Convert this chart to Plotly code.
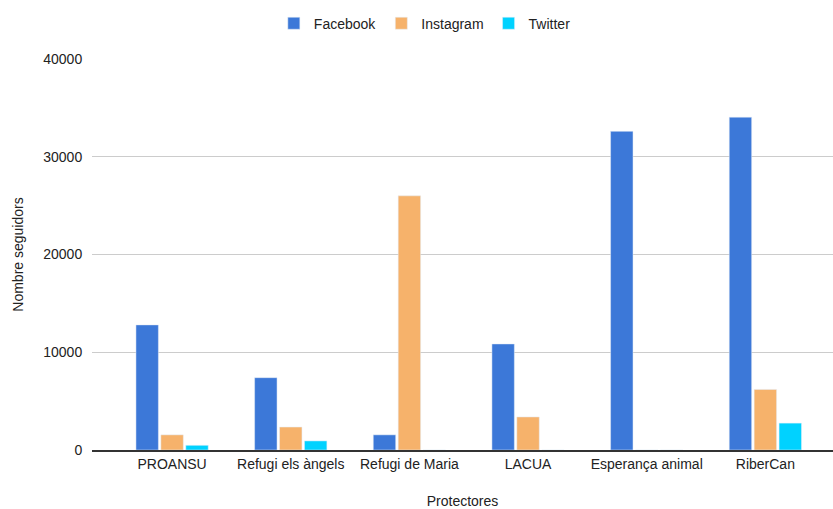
import plotly.graph_objects as go

categories = ["PROANSU", "Refugi els àngels", "Refugi de Maria", "LACUA", "Esperança animal", "RiberCan"]
facebook = [12800, 7400, 1550, 10850, 32600, 34050]
instagram = [1550, 2350, 26000, 3380, 0, 6200]
twitter = [480, 930, 0, 0, 0, 2750]
y_ticks = [0, 10000, 20000, 30000, 40000]

font_family = "Arial, Liberation Sans, sans-serif"

fig = go.Figure()
fig.add_trace(go.Bar(name="Facebook", x=categories, y=facebook, marker_color="#3c78d8"))
fig.add_trace(go.Bar(name="Instagram", x=categories, y=instagram, marker_color="#f6b26b"))
fig.add_trace(go.Bar(name="Twitter", x=categories, y=twitter, marker_color="#00d2ff"))

fig.update_layout(
    width=833, height=509,
    margin=dict(l=92, r=0, t=59, b=59),
    paper_bgcolor="white", plot_bgcolor="white",
    barmode="group", bargap=0.37, bargroupgap=0.1,
    font=dict(family=font_family, size=14, color="#222222"),
    legend=dict(orientation="h", xref="container", x=0.51, xanchor="center",
                yref="container", y=0.985, yanchor="top",
                font=dict(size=14, color="#222222")),
    xaxis=dict(range=[-0.675, 5.57], showgrid=False, showline=True, automargin=False,
               linecolor="#333333", linewidth=1.5,
               title=dict(text="Protectores", standoff=31, font=dict(size=14)),
               tickfont=dict(size=14)),
    yaxis=dict(range=[0, 40000], tickvals=y_ticks, ticktext=[str(v) for v in y_ticks],
               showgrid=True, gridcolor="#cccccc", zeroline=False, automargin=False,
               ticks="outside", ticklen=6, tickcolor="rgba(0,0,0,0)",
               title=dict(text="Nombre seguidors", standoff=16, font=dict(size=14)),
               tickfont=dict(size=14)),
)

fig.write_html("out.html")
